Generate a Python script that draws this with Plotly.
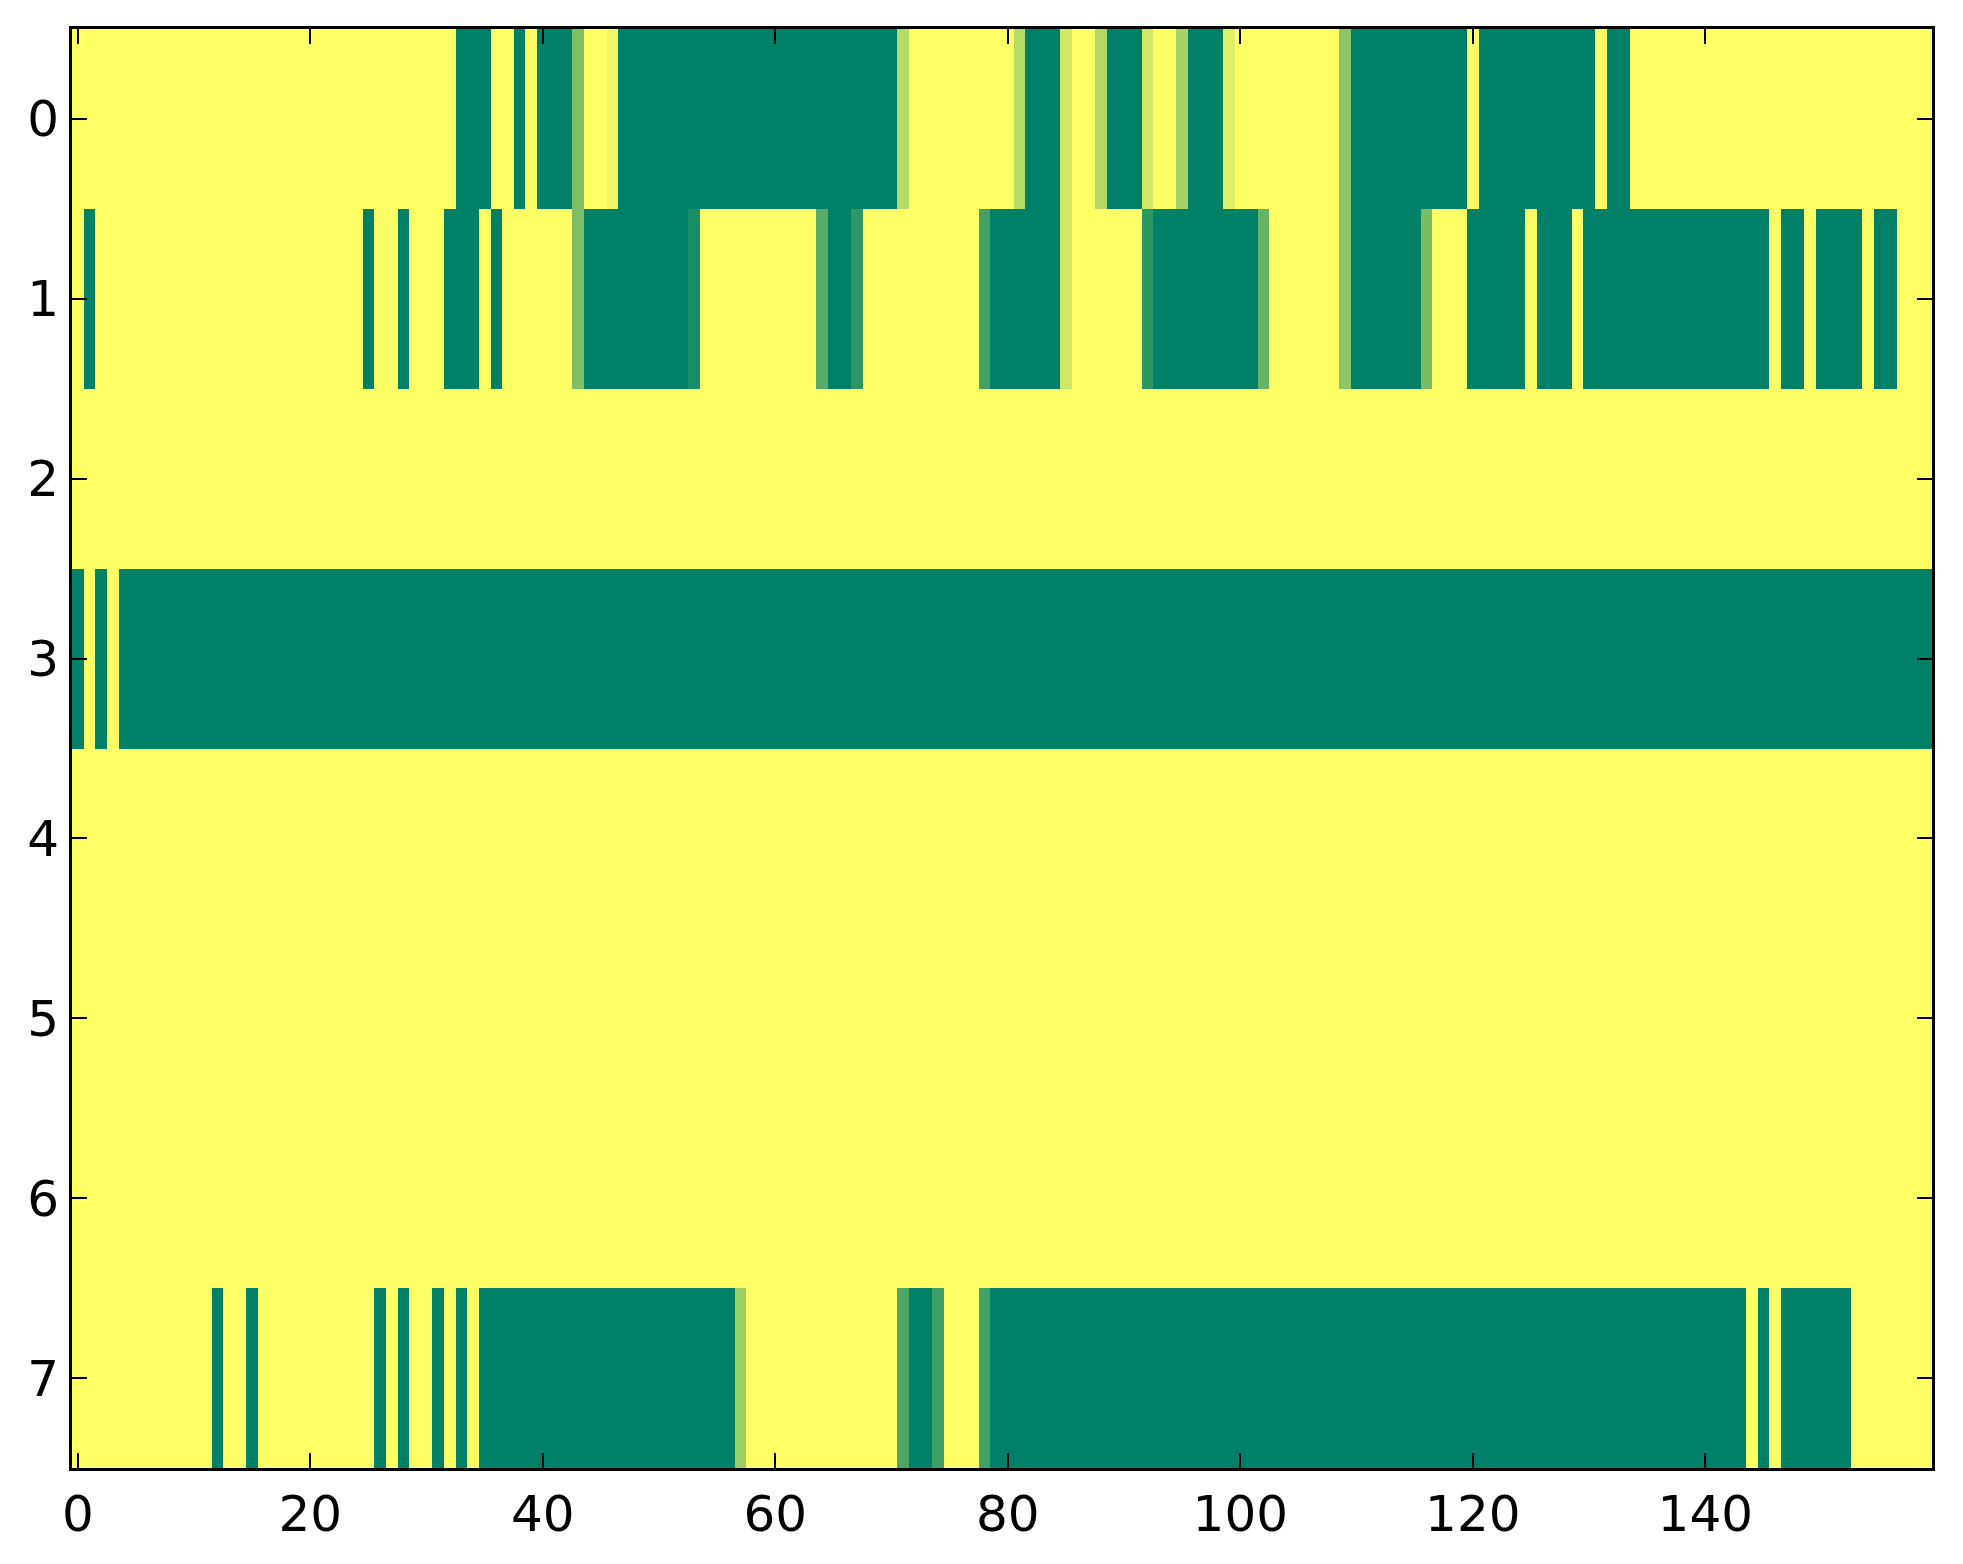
import plotly.graph_objs as go

# 8 rows x 160 columns, values 0..1 shown with matplotlib's "summer" colormap
row_0 = [
    1, 1, 1, 1, 1, 1, 1, 1, 1, 1, 1, 1, 1, 1, 1, 1, 1, 1, 1, 1,
    1, 1, 1, 1, 1, 1, 1, 1, 1, 1, 1, 1, 1, 0, 0, 0, 1, 1, 0, 1,
    0, 0, 0, 0.49, 1, 1, 0.94, 0, 0, 0, 0, 0, 0, 0, 0, 0, 0, 0, 0, 0,
    0, 0, 0, 0, 0, 0, 0, 0, 0, 0, 0, 0.71, 1, 1, 1, 1, 1, 1, 1, 1,
    1, 0.72, 0, 0, 0, 0.82, 1, 1, 0.69, 0, 0, 0, 0.82, 1, 1, 0.65, 0, 0, 0, 0.88,
    1, 1, 1, 1, 1, 1, 1, 1, 1, 0.55, 0, 0, 0, 0, 0, 0, 0, 0, 0, 0,
    1, 0, 0, 0, 0, 0, 0, 0, 0, 0, 0, 1, 0, 0, 1, 1, 1, 1, 1, 1,
    1, 1, 1, 1, 1, 1, 1, 1, 1, 1, 1, 1, 1, 1, 1, 1, 1, 1, 1, 1,
]
row_1 = [
    1, 0, 1, 1, 1, 1, 1, 1, 1, 1, 1, 1, 1, 1, 1, 1, 1, 1, 1, 1,
    1, 1, 1, 1, 1, 0, 1, 1, 0, 1, 1, 1, 0, 0, 0, 1, 0, 1, 1, 1,
    1, 1, 1, 0.49, 0, 0, 0, 0, 0, 0, 0, 0, 0, 0.1, 1, 1, 1, 1, 1, 1,
    1, 1, 1, 1, 0.35, 0, 0, 0.18, 1, 1, 1, 1, 1, 1, 1, 1, 1, 1, 0.26, 0,
    0, 0, 0, 0, 0, 0.82, 1, 1, 1, 1, 1, 1, 0.18, 0, 0, 0, 0, 0, 0, 0,
    0, 0, 0.4, 1, 1, 1, 1, 1, 1, 0.55, 0, 0, 0, 0, 0, 0, 0.47, 1, 1, 1,
    0, 0, 0, 0, 0, 1, 0, 0, 0, 1, 0, 0, 0, 0, 0, 0, 0, 0, 0, 0,
    0, 0, 0, 0, 0, 0, 1, 0, 0, 1, 0, 0, 0, 0, 1, 0, 0, 1, 1, 1,
]
row_2 = [1] * 160
row_3 = [0, 1, 0, 1] + [0] * 156
row_4 = [1] * 160
row_5 = [1] * 160
row_6 = [1] * 160
row_7 = [
    1, 1, 1, 1, 1, 1, 1, 1, 1, 1, 1, 1, 0, 1, 1, 0, 1, 1, 1, 1,
    1, 1, 1, 1, 1, 1, 0, 1, 0, 1, 1, 0, 1, 0, 1, 0, 0, 0, 0, 0,
    0, 0, 0, 0, 0, 0, 0, 0, 0, 0, 0, 0, 0, 0, 0, 0, 0, 0.61, 1, 1,
    1, 1, 1, 1, 1, 1, 1, 1, 1, 1, 1, 0.29, 0, 0, 0.24, 1, 1, 1, 0.26, 0,
    0, 0, 0, 0, 0, 0, 0, 0, 0, 0, 0, 0, 0, 0, 0, 0, 0, 0, 0, 0,
    0, 0, 0, 0, 0, 0, 0, 0, 0, 0, 0, 0, 0, 0, 0, 0, 0, 0, 0, 0,
    0, 0, 0, 0, 0, 0, 0, 0, 0, 0, 0, 0, 0, 0, 0, 0, 0, 0, 0, 0,
    0, 0, 0, 0, 1, 0, 1, 0, 0, 0, 0, 0, 0, 1, 1, 1, 1, 1, 1, 1,
]

rows = [row_0, row_1, row_2, row_3, row_4, row_5, row_6, row_7]
x_ticks = [0, 20, 40, 60, 80, 100, 120, 140]
y_ticks = [0, 1, 2, 3, 4, 5, 6, 7]

# matplotlib "summer": (v, 0.5 + v/2, 0.4)
summer = [[0, "rgb(0,128,102)"], [1, "rgb(255,255,102)"]]

fig = go.Figure()
fig.add_trace(go.Heatmap(z=rows, x=list(range(len(row_0))), y=y_ticks,
                         colorscale=summer, zmin=0, zmax=1,
                         showscale=False))

axis_style = dict(showline=True, linecolor="black", linewidth=3,
                  mirror="ticks", ticks="inside", ticklen=15, tickwidth=2,
                  tickcolor="black", showgrid=False, zeroline=False,
                  automargin=False)
fig.update_xaxes(range=[-0.5, 159.5], tickvals=x_ticks, **axis_style)
fig.update_yaxes(range=[7.5, -0.5], tickvals=y_ticks, **axis_style)
# the page body adds an 8px offset, so the figure is 8px smaller
fig.update_layout(
    width=1955, height=1556,
    margin=dict(l=64, r=31, t=21, b=96),
    paper_bgcolor="white", plot_bgcolor="white",
    font=dict(family="DejaVu Sans", size=50, color="black"))
fig.write_html("out.html")
